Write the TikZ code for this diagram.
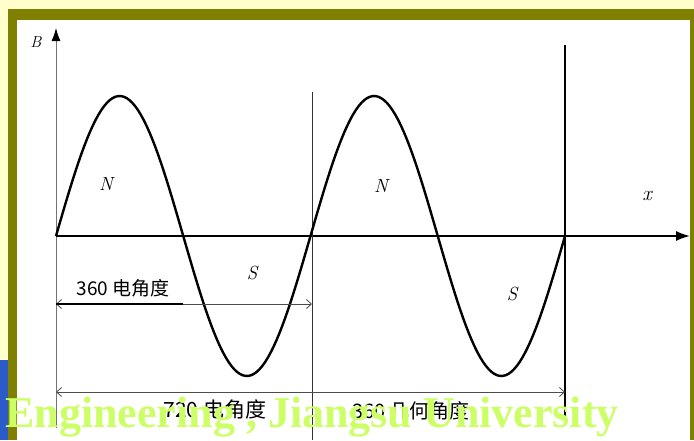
\documentclass[tikz,border=0pt]{standalone}
\usepackage{fontspec}
\usetikzlibrary{arrows.meta}
\newfontfamily\cjk{Noto Sans CJK SC}
\newfontfamily\wmfont{Liberation Serif}
\definecolor{paleyellow}{HTML}{FFFFCC}
\definecolor{olive}{HTML}{808000}
\definecolor{slideblue}{HTML}{2A5BC8}
\definecolor{wmgreen}{HTML}{CCFF66}
\tikzset{
  curve/.style={line width=2.4pt, black, line join=round},
  dimline/.style={line width=0.8pt, black!70, {Straight Barb[length=5pt,width=9pt]}-{Straight Barb[length=5pt,width=9pt]}},
  pole/.style={font=\itshape\fontsize{19}{19}\selectfont},
  anglabel/.style={font=\cjk\fontsize{19}{19}\selectfont, inner sep=0pt}
}
\begin{document}
\begin{tikzpicture}[x=1pt, y=-1pt]
  % Slide frame
  \fill[paleyellow] (0,0) rectangle (694,440);
  \fill[slideblue] (0,360) rectangle (8,440);
  \fill[olive] (8,9) rectangle (694,440);
  \fill[white] (17,20) rectangle (690,440);
  \useasboundingbox (0,0) rectangle (694,440);
  % Axes
  \coordinate (O) at (56,236);
  \coordinate (ybot) at (56,428);
  \coordinate (ytop) at (56,28);
  \coordinate (xend) at (690,236);
  \draw[line width=1pt, black!55, -{Latex[length=13pt,width=9pt,color=black]}] (ybot) -- (ytop);
  \draw[line width=1.6pt, -{Latex[length=14pt,width=10pt]}] (O) -- (xend);
  \node (Blabel) at (36,42) {\itshape\fontsize{16}{16}\selectfont B};
  \node (xlabel) at (647,196) {\itshape\fontsize{21}{21}\selectfont x};
  % Pole pitch lines
  \coordinate (midtop) at (312,92);
  \coordinate (midbot) at (312,440);
  \coordinate (endtop) at (565,45);
  \coordinate (endbot) at (565,425);
  \draw[line width=0.8pt, black!80] (midtop) -- (midbot);
  \draw[line width=1.6pt] (endtop) -- (endbot);
  % Flux density wave
  \draw[curve] plot[domain=0:720, samples=181] ({56+\x/720*509}, {236-140*sin(\x)});
  \node[pole] (N1) at (106,184) {N};
  \node[pole] (N2) at (381,186) {N};
  \node[pole] (S1) at (252,273) {S};
  \node[pole] (S2) at (512,294) {S};
  % Electrical angle
  \coordinate (e1) at (56,304);
  \coordinate (e2) at (312,304);
  \coordinate (e3) at (183,304);
  \draw[dimline] (e1) -- (e2);
  \draw[line width=1.6pt] (e1) -- (e3);
  \node[anglabel] (elec) at (123,288) {360 电角度};
  % Geometric angle
  \coordinate (g1) at (56,392);
  \coordinate (g2) at (565,392);
  \draw[dimline] (g1) -- (g2);
  \node[anglabel, font=\cjk\fontsize{21}{21}\selectfont] (elec2) at (215,410) {720 电角度};
  \node[anglabel, font=\cjk\fontsize{20}{20}\selectfont] (geom) at (411,411) {360 几何角度};
  % Watermark
  \node[anchor=base west, inner sep=0pt, text=wmgreen, font=\wmfont\bfseries\fontsize{44}{44}\selectfont] (wm) at (5,427) {Engineering , Jiangsu University};
\end{tikzpicture}
\end{document}
